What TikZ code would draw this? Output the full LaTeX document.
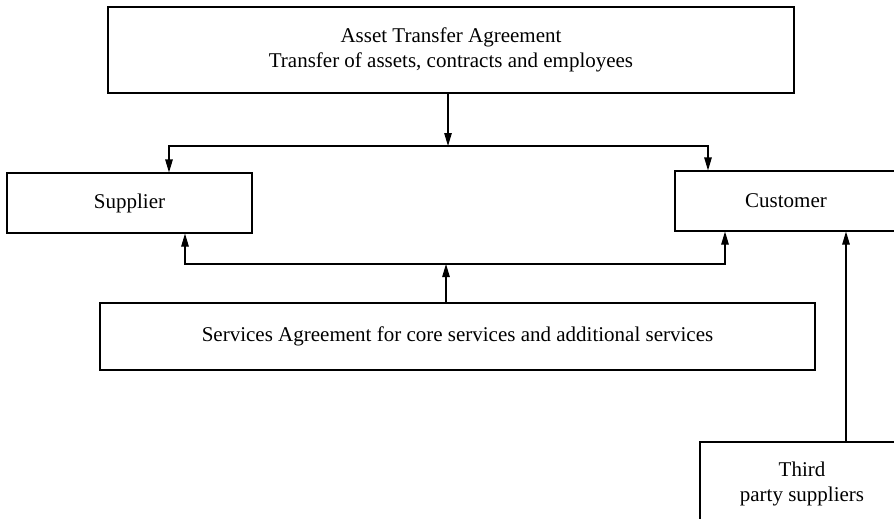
\documentclass[tikz,border=0pt]{standalone}
\usepackage{fontspec}
\setmainfont{Liberation Serif}
\usetikzlibrary{arrows.meta,calc}

\begin{document}
\begin{tikzpicture}[x=1pt,y=-1pt,
  box/.style={draw, line width=1.1pt, align=center, inner sep=0pt,
    font=\fontsize{21}{25}\selectfont},
  arr/.style={line width=1.1pt, -{Triangle[length=13pt,width=7.5pt]}}]
  \useasboundingbox (0,0) rectangle (894,519);
  \clip (0,0) rectangle (894,519);

  % boxes
  \node[box, minimum width=686pt, minimum height=86pt] (ata) at (451,50)
    {Asset Transfer Agreement\\Transfer of assets, contracts and employees};
  \node[box, minimum width=245pt, minimum height=60pt] (sup) at (129.5,203) {Supplier};
  \node[box, minimum width=222pt, minimum height=60pt] (cus) at (786,201) {Customer};
  \node[box, minimum width=715pt, minimum height=67pt] (sa) at (457.5,336.5)
    {Services Agreement for core services and additional services};
  \node[box, minimum width=204pt, minimum height=84pt] (tps) at (802,484)
    {Third\\party suppliers};

  % junctions
  \coordinate (jt) at (448,146);
  \coordinate (jb) at (446,264);

  % asset transfer fans out to both parties
  \draw[arr] (ata.south -| jt) -- (jt);
  \draw[arr] (jt) -| ([xshift=39.5pt]sup.north);
  \draw[arr] (jt) -| ([xshift=-78pt]cus.north);

  % services agreement binds both parties
  \draw[arr] (sa.north -| jb) -- (jb);
  \draw[arr] (jb) -| ([xshift=55.5pt]sup.south);
  \draw[arr] (jb) -| ([xshift=-61pt]cus.south);

  % third party suppliers serve the customer
  \draw[arr] ([xshift=44pt]tps.north) -- ([xshift=60pt]cus.south);
\end{tikzpicture}
\end{document}
